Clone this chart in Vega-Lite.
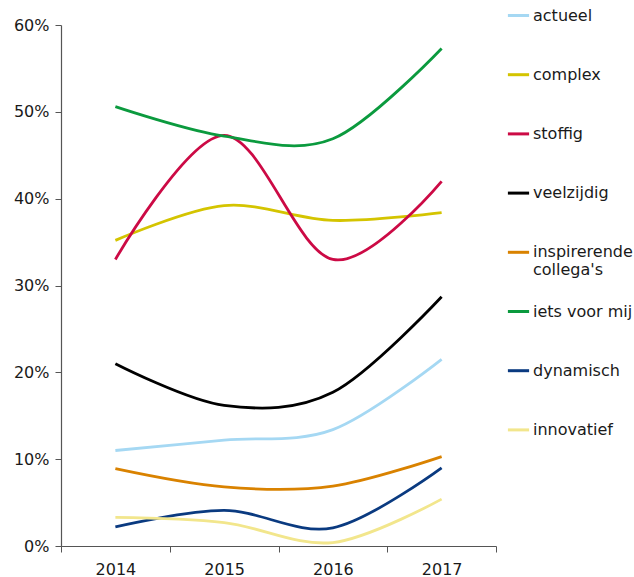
{
  "$schema": "https://vega.github.io/schema/vega-lite/v6.json",
  "autosize": "none",
  "width": 435,
  "height": 521,
  "padding": {"left": 61, "top": 25, "right": 138, "bottom": 31},
  "background": "white",
  "config": {
    "view": {"stroke": null},
    "font": "DejaVu Sans",
    "axis": {"labelFont": "DejaVu Sans", "labelFontSize": 16, "labelColor": "#1a1a1a", "domainColor": "#555555", "tickColor": "#555555", "grid": false, "title": null},
    "legend": {"labelFont": "DejaVu Sans", "labelFontSize": 16, "labelColor": "#1a1a1a"}
  },
  "data": {
    "values": [
      {"year": "2014", "series": "actueel", "value": 0.110},
      {"year": "2015", "series": "actueel", "value": 0.122},
      {"year": "2016", "series": "actueel", "value": 0.134},
      {"year": "2017", "series": "actueel", "value": 0.215},
      {"year": "2014", "series": "complex", "value": 0.352},
      {"year": "2015", "series": "complex", "value": 0.392},
      {"year": "2016", "series": "complex", "value": 0.375},
      {"year": "2017", "series": "complex", "value": 0.384},
      {"year": "2014", "series": "stoffig", "value": 0.330},
      {"year": "2015", "series": "stoffig", "value": 0.473},
      {"year": "2016", "series": "stoffig", "value": 0.330},
      {"year": "2017", "series": "stoffig", "value": 0.420},
      {"year": "2014", "series": "veelzijdig", "value": 0.210},
      {"year": "2015", "series": "veelzijdig", "value": 0.162},
      {"year": "2016", "series": "veelzijdig", "value": 0.177},
      {"year": "2017", "series": "veelzijdig", "value": 0.287},
      {"year": "2014", "series": "inspirerende collega's", "value": 0.089},
      {"year": "2015", "series": "inspirerende collega's", "value": 0.068},
      {"year": "2016", "series": "inspirerende collega's", "value": 0.069},
      {"year": "2017", "series": "inspirerende collega's", "value": 0.103},
      {"year": "2014", "series": "iets voor mij", "value": 0.506},
      {"year": "2015", "series": "iets voor mij", "value": 0.472},
      {"year": "2016", "series": "iets voor mij", "value": 0.469},
      {"year": "2017", "series": "iets voor mij", "value": 0.573},
      {"year": "2014", "series": "dynamisch", "value": 0.022},
      {"year": "2015", "series": "dynamisch", "value": 0.041},
      {"year": "2016", "series": "dynamisch", "value": 0.021},
      {"year": "2017", "series": "dynamisch", "value": 0.090},
      {"year": "2014", "series": "innovatief", "value": 0.033},
      {"year": "2015", "series": "innovatief", "value": 0.027},
      {"year": "2016", "series": "innovatief", "value": 0.004},
      {"year": "2017", "series": "innovatief", "value": 0.054}
    ]
  },
  "mark": {"type": "line", "interpolate": "cardinal", "strokeWidth": 2.8},
  "encoding": {
    "x": {
      "field": "year", "type": "ordinal",
      "scale": {"paddingInner": 0, "paddingOuter": 0},
      "axis": {"labelAngle": 0, "tickBand": "extent", "tickSize": 6, "labelPadding": 9, "domainWidth": 1.2}
    },
    "y": {
      "field": "value", "type": "quantitative",
      "scale": {"domain": [0, 0.6], "nice": false},
      "axis": {"format": ".0%", "values": [0, 0.1, 0.2, 0.3, 0.4, 0.5, 0.6], "tickSize": 6, "labelPadding": 6, "domainWidth": 1.2}
    },
    "color": {
      "field": "series", "type": "nominal",
      "sort": ["actueel", "complex", "stoffig", "veelzijdig", "inspirerende collega's", "iets voor mij", "dynamisch", "innovatief"],
      "scale": {
        "domain": ["actueel", "complex", "stoffig", "veelzijdig", "inspirerende collega's", "iets voor mij", "dynamisch", "innovatief"],
        "range": ["#a5d8f3", "#d4c400", "#cc0a45", "#000000", "#d98200", "#0b9a3e", "#0a3a80", "#f2e68c"]
      },
      "legend": {
        "title": null,
        "orient": "none",
        "legendX": 445,
        "legendY": -22,
        "symbolType": "M-1,0L1,0M0,-1M0,2.9",
        "symbolSize": 450,
        "symbolStrokeWidth": 3,
        "labelOffset": 2,
        "rowPadding": 4.2,
        "labelLimit": 200,
        "labelExpr": "datum.label == \"inspirerende collega's\" ? ['inspirerende', \"collega's\"] : datum.label"
      }
    }
  }
}
